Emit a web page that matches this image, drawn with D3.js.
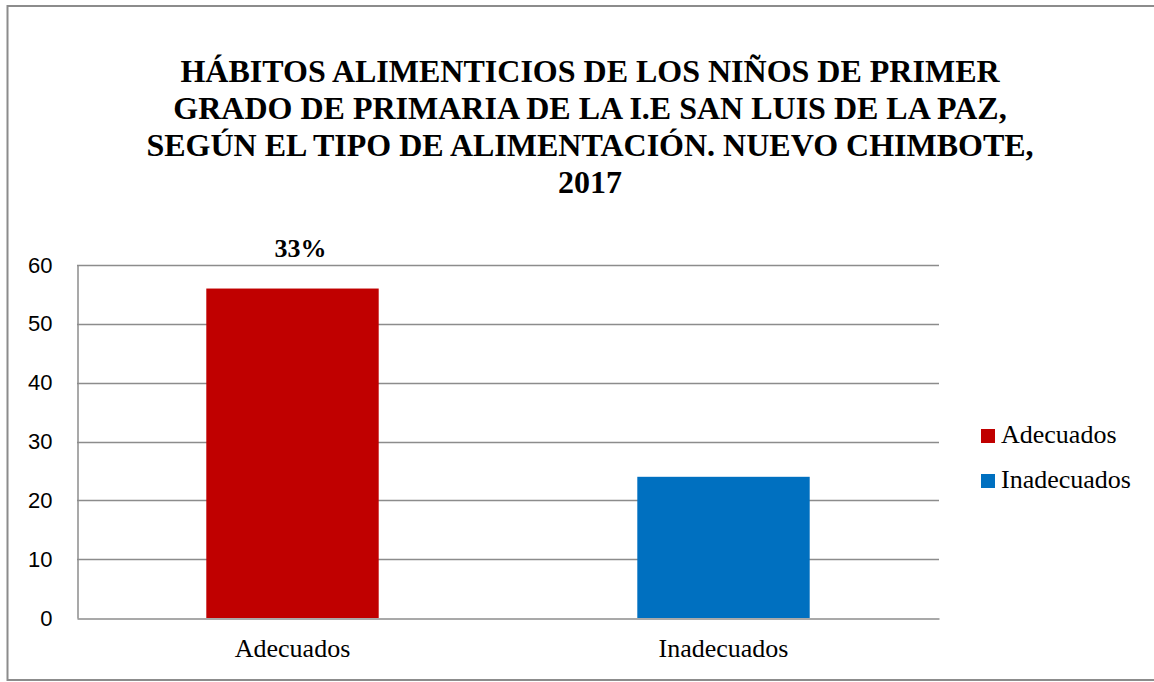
<!DOCTYPE html>
<html>
<head>
<meta charset="utf-8">
<script src="https://cdnjs.cloudflare.com/ajax/libs/d3/7.8.5/d3.min.js"></script>
<style>
	body { margin: 0; background: #fff; }
	svg { display: block; }
	.serif { font-family: "Times New Roman", "Liberation Serif", Times, serif; }
	.sans { font-family: "Liberation Sans", Arial, sans-serif; }
</style>
</head>
<body>
<svg id="chart" width="1154" height="682"></svg>
<script>
// data
var categories = ["Adecuados", "Inadecuados"];
var values = [56, 24];
var barLabels = ["33%", ""];
var colors = ["#c00000", "#0070c0"];
var yTicks = [0, 10, 20, 30, 40, 50, 60];
var titleLines = [
	"HÁBITOS ALIMENTICIOS DE LOS NIÑOS DE PRIMER",
	"GRADO DE PRIMARIA DE LA I.E SAN LUIS DE LA PAZ,",
	"SEGÚN EL TIPO DE ALIMENTACIÓN. NUEVO CHIMBOTE,",
	"2017"
];

var svg = d3.select("#chart");
var gridColor = "#8c8c8c";

// outer frame
svg.append("rect")
	.attr("x", 7.5).attr("y", 6)
	.attr("width", 1160).attr("height", 674)
	.attr("fill", "none")
	.attr("stroke", "#8c8c8c")
	.attr("stroke-width", 2);

// title
svg.append("text")
	.attr("class", "serif")
	.attr("text-anchor", "middle")
	.style("font-weight", "bold")
	.style("font-size", "32px")
	.attr("fill", "#000")
	.selectAll("tspan")
	.data(titleLines)
	.enter().append("tspan")
		.attr("x", 590)
		.attr("y", function(d, i){ return 82 + i * 37; })
		.text(function(d){ return d; });

var plotLeft = 77, plotRight = 939, plotTop = 265, plotBottom = 618;

var x = d3.scaleBand()
	.domain(categories)
	.range([plotLeft, plotRight])
	.paddingInner(0.6)
	.paddingOuter(0.3);

var xBand = d3.scaleBand()
	.domain(categories)
	.range([plotLeft, plotRight]);

var y = d3.scaleLinear()
	.domain([0, 60])
	.range([plotBottom, plotTop]);

// gridlines
svg.append("g")
	.selectAll("line")
	.data(yTicks.filter(function(d){ return d > 0; }))
	.enter().append("line")
		.attr("x1", plotLeft).attr("x2", plotRight)
		.attr("y1", function(d){ return Math.round(y(d)) + 0.5; })
		.attr("y2", function(d){ return Math.round(y(d)) + 0.5; })
		.attr("stroke", gridColor)
		.attr("stroke-width", 1.5);

// y axis
var yAxis = svg.append("g")
	.attr("transform", "translate(" + (plotLeft + 0.5) + ",0)")
	.call(d3.axisLeft(y).tickValues(yTicks).tickSize(0).tickPadding(25));
yAxis.attr("font-family", null).attr("font-size", null);
yAxis.select(".domain").attr("stroke", gridColor).attr("stroke-width", 1.5);
yAxis.selectAll("text")
	.attr("class", "sans")
	.style("font-size", "22px")
	.attr("fill", "#000");

// bars
svg.append("g")
	.selectAll("rect")
	.data(values)
	.enter().append("rect")
		.attr("x", function(d, i){ return x(categories[i]); })
		.attr("width", x.bandwidth())
		.attr("y", function(d){ return y(d); })
		.attr("height", function(d){ return y(0) - y(d); })
		.attr("fill", function(d, i){ return colors[i]; });

// x axis
var xAxis = svg.append("g")
	.attr("transform", "translate(0," + (plotBottom + 0.5) + ")")
	.call(d3.axisBottom(xBand).tickSize(0).tickPadding(20));
xAxis.attr("font-family", null).attr("font-size", null);
xAxis.select(".domain").attr("stroke", gridColor).attr("stroke-width", 1.5);
xAxis.selectAll("text")
	.attr("class", "serif")
	.style("font-size", "26px")
	.attr("fill", "#000");

// bar labels
svg.append("g")
	.selectAll("text")
	.data(values)
	.enter().append("text")
		.attr("class", "serif")
		.attr("x", function(d, i){ return x(categories[i]) + x.bandwidth() / 2 + 8; })
		.attr("y", function(d){ return y(d) - 32; })
		.attr("text-anchor", "middle")
		.style("font-weight", "bold")
		.style("font-size", "26px")
		.attr("fill", "#000")
		.text(function(d, i){ return barLabels[i]; });

// legend
var legend = svg.append("g")
	.selectAll("g")
	.data(categories)
	.enter().append("g")
		.attr("transform", function(d, i){ return "translate(981," + (429 + i * 45) + ")"; });

legend.append("rect")
	.attr("width", 14).attr("height", 14)
	.attr("fill", function(d, i){ return colors[i]; });

legend.append("text")
	.attr("class", "serif")
	.attr("x", 20).attr("y", 14)
	.style("font-size", "26px")
	.attr("fill", "#000")
	.text(function(d){ return d; });
</script>
</body>
</html>
